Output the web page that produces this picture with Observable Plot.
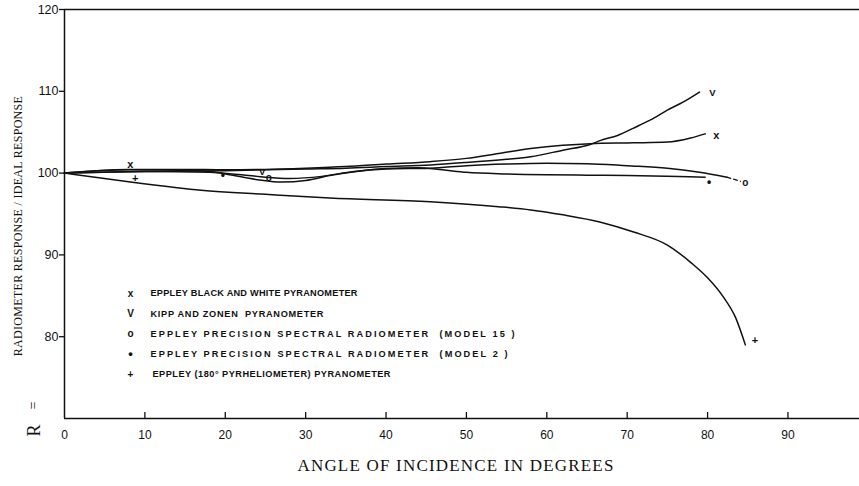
<!DOCTYPE html>
<html><head><meta charset="utf-8">
<script src="https://cdn.jsdelivr.net/npm/d3@7"></script>
<script src="https://cdn.jsdelivr.net/npm/@observablehq/plot@0.6"></script>
<style>body{margin:0;background:#fff}</style>
</head><body><div id="chart"></div>
<script>
// ---- data (angle in degrees, R in percent) ----
const xTicks = [0, 10, 20, 30, 40, 50, 60, 70, 80, 90];
const yTicks = [80, 90, 100, 110, 120];

const blackWhite = [[0,100],[4,100.3],[8,100.45],[15,100.45],[20,100.4],[25,100.45],[30,100.6],[35,100.8],[40,101.1],[45.5,101.4],[50,101.8],[54,102.4],[58,103.0],[62,103.4],[65.4,103.6],[70.8,103.7],[75,103.8],[77.9,104.3],[79.7,104.8]];
const kippZonen = [[0,100],[10,100.2],[20,100.3],[25,100.4],[30,100.5],[35,100.6],[40,100.8],[45.5,101.0],[50,101.3],[55,101.7],[58,102.0],[62,102.8],[65.4,103.5],[66.7,104.0],[68.8,104.6],[70.8,105.5],[72.9,106.5],[75,107.7],[77,108.7],[79,109.9]];
const psp15 = [[0,100],[10,100.2],[18,100.1],[22,99.8],[25,99.5],[28,99.35],[32,99.6],[36,100.2],[40,100.5],[45.5,100.6],[50,100.9],[55,101.1],[60,101.2],[65,101.15],[70,100.9],[75,100.6],[79,100.1],[82.4,99.5]];
const psp15Tail = [[82.4,99.5],[84.1,99.0]];
const psp2 = [[0,100],[8,100.4],[17,100.3],[20,99.9],[24,99.2],[27,98.9],[30,99.1],[33,99.7],[37,100.3],[40,100.55],[44,100.65],[47,100.4],[50,100.1],[55,99.9],[60,99.8],[65,99.75],[70,99.7],[75,99.6],[79.7,99.5]];
const pyrhelio = [[0,100],[4.5,99.4],[8.2,98.9],[14,98.2],[17,97.9],[25,97.4],[33,96.95],[45.5,96.5],[54,95.9],[58,95.5],[62,94.9],[66.7,94.0],[70.8,92.8],[75,91.2],[78,89.0],[80,87.2],[82,84.8],[83.5,82.3],[84.7,79.0]];

const markBlackWhite = [[8.2,101.0],[81.1,104.6]];
const markKipp = [[24.6,100.1],[80.6,109.75]];
const markPsp15 = [[25.4,99.45],[84.7,98.8]];
const markPsp2 = [[19.7,99.75],[80.2,98.9]];
const markPyrhelio = [[8.8,99.4],[85.9,79.6]];

const legendSymbols = ["x", "V", "o", "•", "+"];
const legendLabels = [
  "EPPLEY BLACK AND WHITE PYRANOMETER",
  "KIPP AND ZONEN  PYRANOMETER",
  "EPPLEY PRECISION SPECTRAL RADIOMETER  (MODEL 15 )",
  "EPPLEY PRECISION SPECTRAL RADIOMETER  (MODEL 2 )",
  "EPPLEY (180° PYRHELIOMETER) PYRANOMETER"
];
const xLabel = "ANGLE OF INCIDENCE IN DEGREES";
const yLabel = "RADIOMETER RESPONSE / IDEAL RESPONSE";

// ---- chart ----
const ink = "#111";
const serif = "Liberation Serif, Times New Roman, serif";
const lineOpts = {x: d => d[0], y: d => d[1], curve: "monotone-x", stroke: ink, strokeWidth: 1.5};
const symFont = {fontFamily: "Liberation Sans, Arial, sans-serif", fontWeight: "bold", fill: ink};
const markOpts = (sym, size) => ({x: d => d[0], y: d => d[1], text: () => sym, fontSize: size, ...symFont});

const legendMarks = [];
legendLabels.forEach((t, i) => {
  legendMarks.push(Plot.text([legendSymbols[i]], {text: d => d, frameAnchor: "top-left", dx: 66, dy: 284 + i * 20.2,
    textAnchor: "middle", lineAnchor: "middle", fontSize: legendSymbols[i] === "•" ? 13 : 10, ...symFont}));
  legendMarks.push(Plot.text([t], {text: d => d, frameAnchor: "top-left", dx: 86 + (i === 4 ? 2 : 0), dy: 284 + i * 20.2,
    textAnchor: "start", lineAnchor: "middle", fontSize: 9.2, ...symFont}));
});

const chart = Plot.plot({
  width: 859,
  height: 486,
  marginLeft: 64,
  marginRight: 0,
  marginTop: 9,
  marginBottom: 68,
  style: {background: "#fff", color: ink},
  x: {domain: [0, 98.9]},
  y: {domain: [70, 120]},
  marks: [
    Plot.ruleY([120], {stroke: ink, strokeWidth: 1.5}),
    Plot.ruleY([70], {stroke: ink, strokeWidth: 1.5}),
    Plot.ruleX([0], {stroke: ink, strokeWidth: 1.5}),
    Plot.ruleX(xTicks.filter(d => d > 0), {insetTop: 403, stroke: ink, strokeWidth: 1.3}),
    Plot.axisX({ticks: xTicks, tickSize: 0, tickPadding: 12, tickFormat: d => String(d),
      fontSize: 12, fontFamily: "Liberation Sans, Arial, sans-serif", label: null}),
    Plot.axisY({ticks: yTicks, tickSize: 5, tickPadding: 1, tickFormat: d => String(d),
      fontSize: 12.5, fontFamily: "Liberation Sans, Arial, sans-serif", label: null, strokeWidth: 1.3}),
    Plot.line(blackWhite, lineOpts),
    Plot.line(kippZonen, lineOpts),
    Plot.line(psp15, lineOpts),
    Plot.line(psp15Tail, {...lineOpts, strokeWidth: 1.2, strokeDasharray: "4,3", curve: "linear"}),
    Plot.line(psp2, lineOpts),
    Plot.line(pyrhelio, lineOpts),
    Plot.text(markBlackWhite, markOpts("x", 11)),
    Plot.text(markKipp, markOpts("V", 9.5)),
    Plot.text(markPsp15, markOpts("o", 10)),
    Plot.text(markPsp2, markOpts("•", 12)),
    Plot.text(markPyrhelio, markOpts("+", 11)),
    ...legendMarks,
    Plot.text([xLabel], {text: d => d, frameAnchor: "bottom", dx: -6, dy: 47, fontSize: 17,
      fontFamily: serif, fill: ink, textAnchor: "middle", lineAnchor: "middle"}),
    Plot.text([yLabel], {text: d => d, frameAnchor: "left", rotate: -90, dx: -46, dy: 12, fontSize: 12,
      fontFamily: serif, fill: ink, textAnchor: "middle", lineAnchor: "middle"}),
    Plot.text(["R"], {text: d => d, frameAnchor: "bottom-left", rotate: -90, dx: -30, dy: 12, fontSize: 18,
      fontFamily: serif, fill: ink, textAnchor: "middle", lineAnchor: "middle"}),
    Plot.text(["="], {text: d => d, frameAnchor: "bottom-left", rotate: -90, dx: -31, dy: -13, fontSize: 14,
      fontFamily: serif, fill: ink, textAnchor: "middle", lineAnchor: "middle"})
  ]
});
// spacing of the typewriter-style titles and legend lines (stretched like the original lettering)
const legendWidths = [207, 173, 364, 357, 238];
d3.select(chart).selectAll("text").each(function() {
  const t = this.textContent;
  const i = legendLabels.indexOf(t);
  if (i >= 0) {
    this.setAttribute("textLength", legendWidths[i]);
    this.setAttribute("lengthAdjust", "spacing");
  } else if (t === xLabel) this.style.letterSpacing = "1.2px";
  else if (t === yLabel) this.style.letterSpacing = "0.3px";
});
document.getElementById("chart").append(chart);
</script>
</body></html>
